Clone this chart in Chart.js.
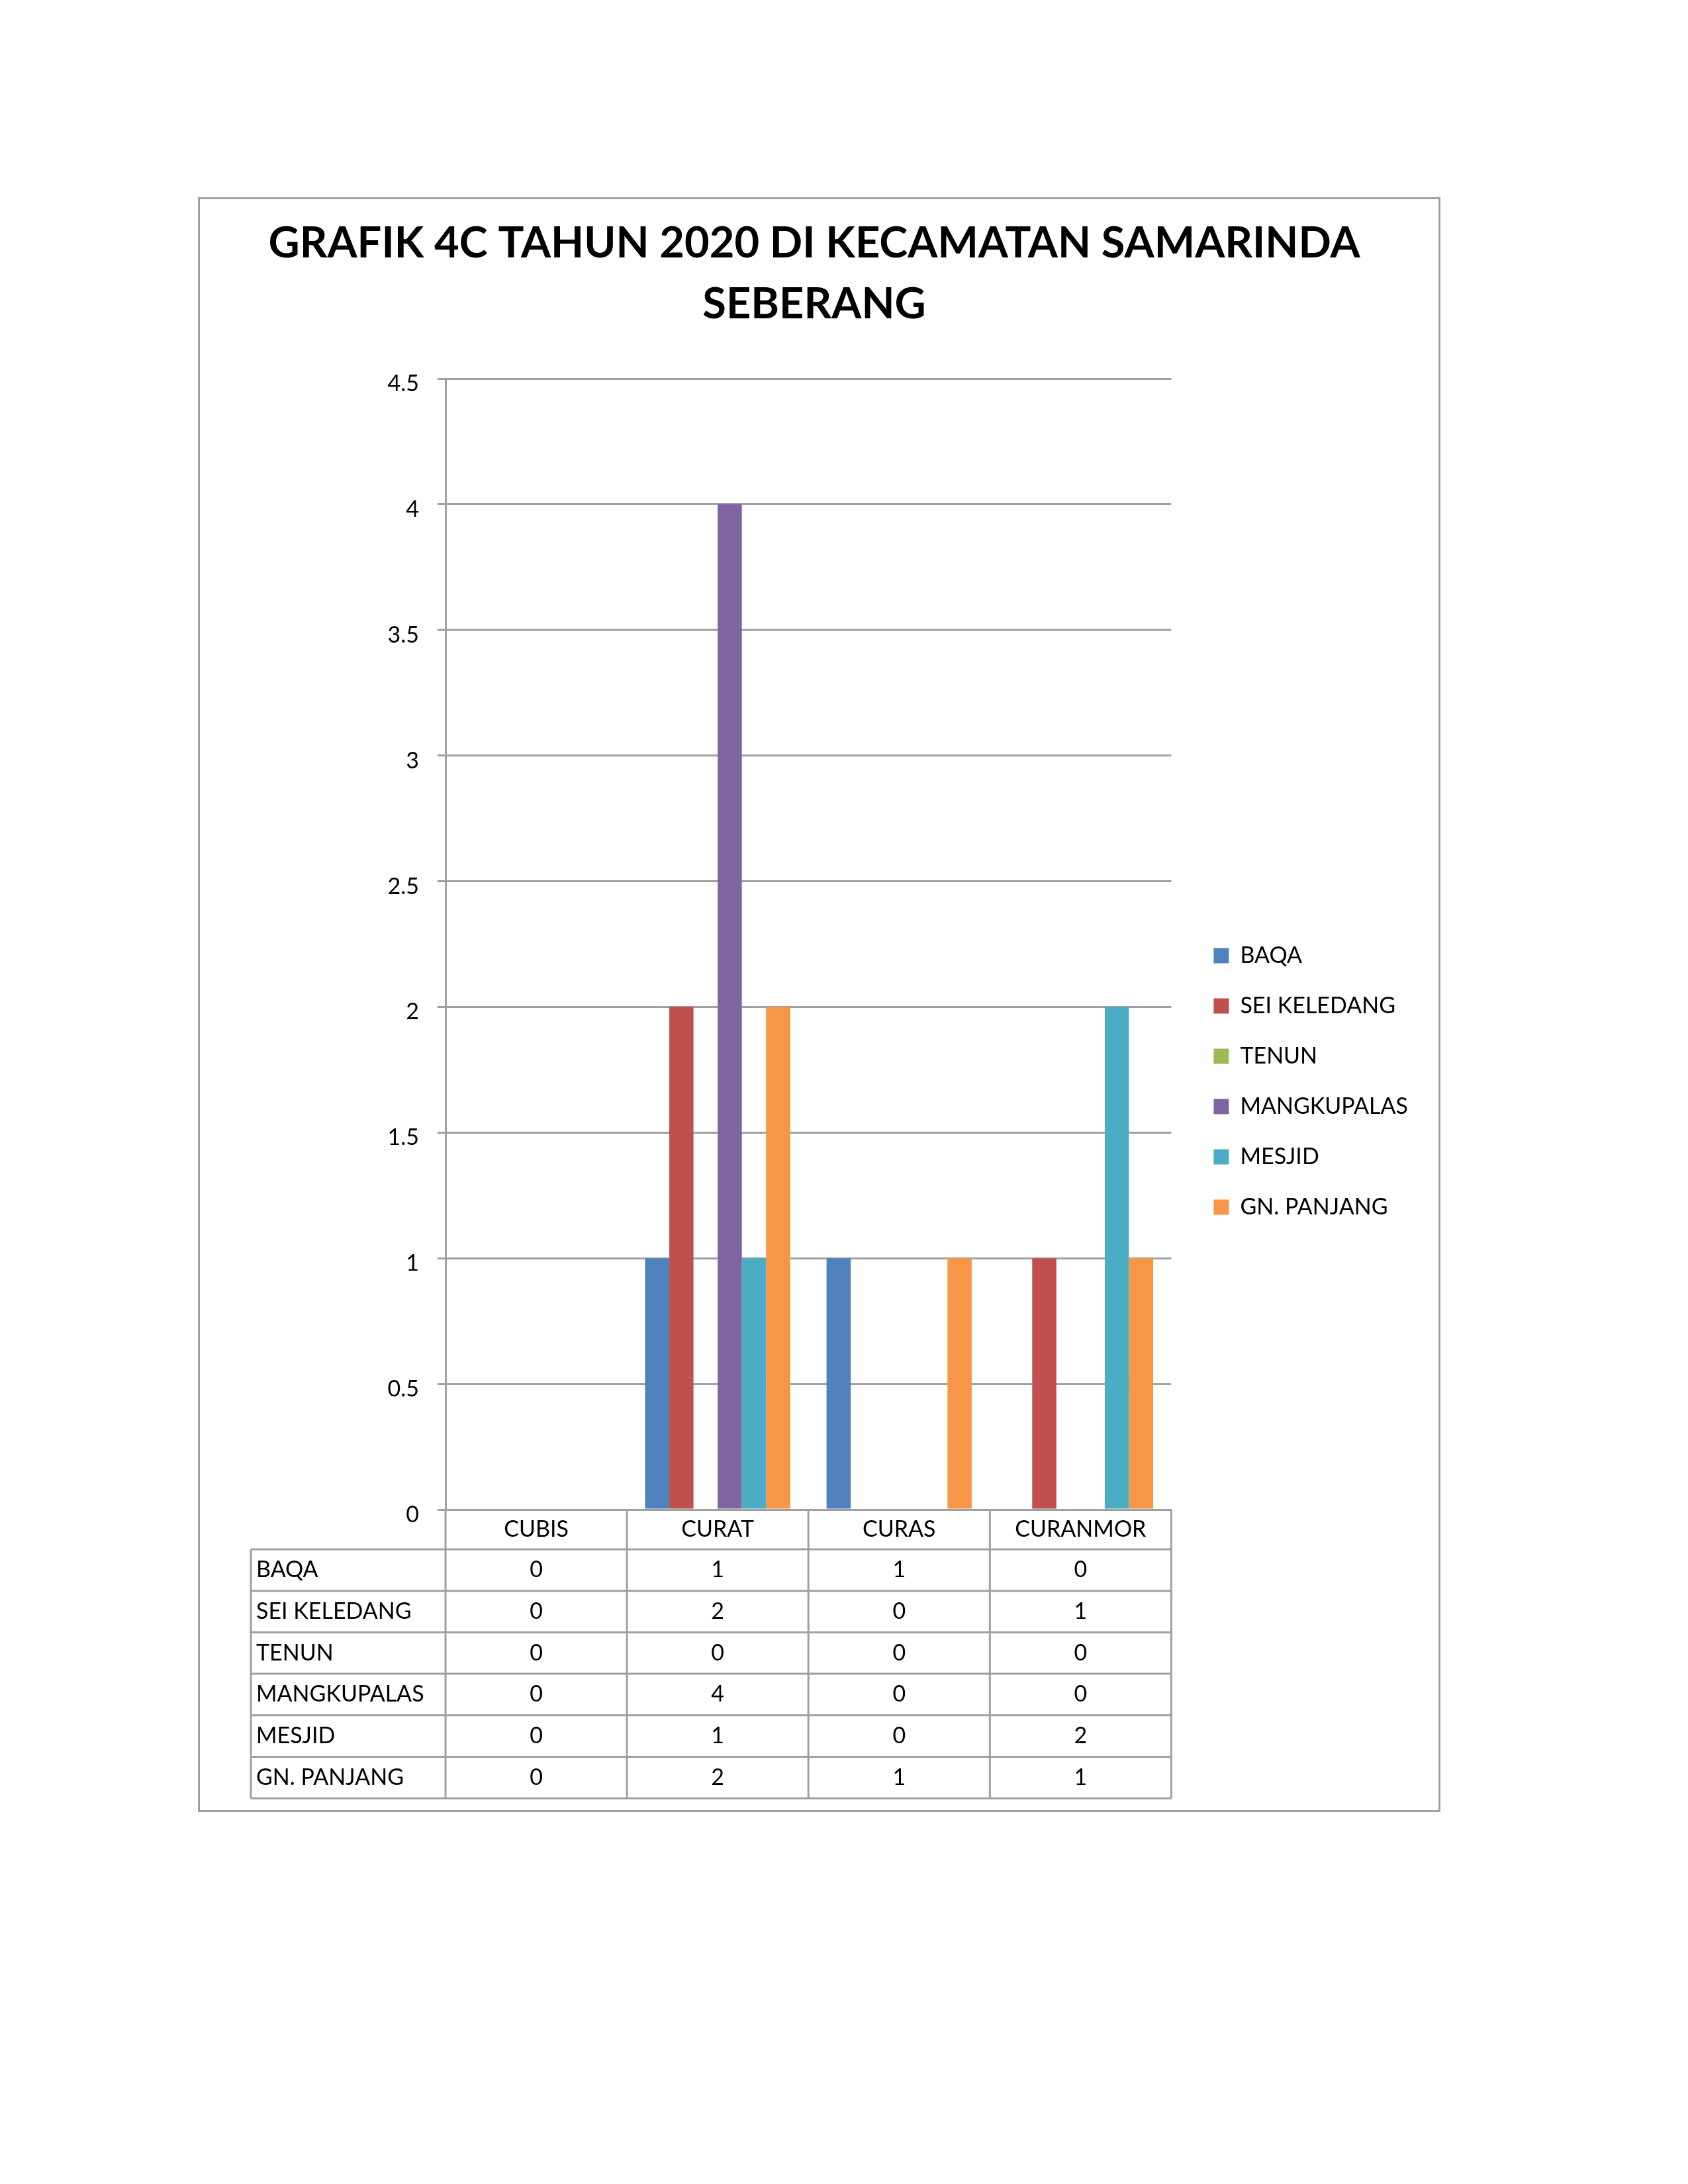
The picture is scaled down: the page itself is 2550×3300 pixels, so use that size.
<!DOCTYPE html>
<html><head><meta charset="utf-8">
<script src="https://cdn.jsdelivr.net/npm/chart.js@4.4.1/dist/chart.umd.min.js"></script>
<style>
html,body{margin:0;padding:0;background:#fff;}
#frame{position:absolute;left:299px;top:298px;width:1877px;height:2440px;box-sizing:border-box;border:3px solid #A0A0A0;}
#c{position:absolute;left:0;top:0;}
</style></head><body>
<div id="frame"></div>
<canvas id="c" width="2550" height="3300"></canvas>
<script>
const titleLines = ['GRAFIK 4C TAHUN 2020 DI KECAMATAN SAMARINDA', 'SEBERANG'];
const categories = ['CUBIS', 'CURAT', 'CURAS', 'CURANMOR'];
const seriesNames = ['BAQA', 'SEI KELEDANG', 'TENUN', 'MANGKUPALAS', 'MESJID', 'GN. PANJANG'];
const seriesColors = ['#4F81BD', '#C0504D', '#9BBB59', '#8064A2', '#4BACC6', '#F79646'];
const baqa = [0, 1, 1, 0];
const seiKeledang = [0, 2, 0, 1];
const tenun = [0, 0, 0, 0];
const mangkupalas = [0, 4, 0, 0];
const mesjid = [0, 1, 0, 2];
const gnPanjang = [0, 2, 1, 1];
const seriesData = [baqa, seiKeledang, tenun, mangkupalas, mesjid, gnPanjang];
const yMin = 0, yMax = 4.5, yStep = 0.5;

const GRID = '#A0A0A0';
const FONT = 'Lato';
const LEG_FONT = 34, LEG_BOX = 23, LEG_PAD = 42;

const tablePlugin = {
  id: 'dataTable',
  afterDraw(chart) {
    const ctx = chart.ctx, xs = chart.scales.x, area = chart.chartArea;
    const n = categories.length;
    const colW = (area.right - area.left) / n;
    const top = area.bottom;
    const headerBottom = top + 60;
    const rows = chart.data.datasets.length;
    const rowH = 62.7;
    const bottom = headerBottom + rows * rowH;
    const labelLeft = 379;
    ctx.save();
    ctx.strokeStyle = GRID;
    ctx.lineWidth = 3;
    ctx.beginPath();
    for (let i = 0; i <= n; i++) {
      const x = i < n ? xs.getPixelForValue(i) - colW / 2 : xs.getPixelForValue(n - 1) + colW / 2;
      ctx.moveTo(x, top); ctx.lineTo(x, bottom);
    }
    ctx.moveTo(labelLeft, headerBottom); ctx.lineTo(labelLeft, bottom);
    for (let r = 0; r <= rows; r++) {
      const y = headerBottom + r * rowH;
      ctx.moveTo(labelLeft, y); ctx.lineTo(area.right, y);
    }
    ctx.stroke();
    ctx.fillStyle = '#000';
    ctx.font = '34px ' + FONT;
    ctx.textBaseline = 'middle';
    chart.data.datasets.forEach((ds, r) => {
      const y = headerBottom + (r + 0.5) * rowH;
      ctx.textAlign = 'left';
      ctx.fillText(ds.label, labelLeft + 8, y);
      ctx.textAlign = 'center';
      ds.data.forEach((v, c) => {
        ctx.fillText(String(v), xs.getPixelForValue(c), y);
      });
    });
    ctx.restore();
  }
};

function draw() {
  Chart.defaults.font.family = FONT;
  Chart.defaults.color = '#000';
  // legend natural width, so the plot's right edge lands where wanted
  const mctx = document.createElement('canvas').getContext('2d');
  mctx.font = LEG_FONT + 'px ' + FONT;
  let maxText = 0;
  seriesNames.forEach(s => { maxText = Math.max(maxText, mctx.measureText(s).width); });
  const legendW = Math.ceil(LEG_PAD + LEG_BOX + LEG_FONT / 2 + maxText + 10) + 2;
  const plotRight = 1767, gap = 22, plotLeft = 673, titleCenter = 1230;
  const padRight = 2550 - plotRight - gap - legendW;
  const padLeft = 2 * titleCenter - (2550 - padRight);
  const yAxisW = plotLeft - padLeft;

  new Chart(document.getElementById('c'), {
    type: 'bar',
    data: {
      labels: categories,
      datasets: seriesNames.map((name, i) => ({
        label: name,
        data: seriesData[i],
        backgroundColor: seriesColors[i],
        borderWidth: 0,
        categoryPercentage: 0.8,
        barPercentage: 1.0
      }))
    },
    options: {
      responsive: false,
      devicePixelRatio: 1,
      animation: false,
      layout: { padding: { top: 300, bottom: 332, left: padLeft, right: padRight } },
      plugins: {
        title: {
          display: true,
          text: titleLines,
          color: '#000',
          font: { family: FONT, size: 65, weight: 'bold', lineHeight: 92 / 65 },
          padding: { top: 22, bottom: 66 }
        },
        legend: {
          display: true,
          position: 'right',
          align: 'center',
          maxWidth: legendW + 50,
          labels: {
            boxWidth: LEG_BOX, boxHeight: LEG_BOX, padding: LEG_PAD,
            color: '#000',
            font: { family: FONT, size: LEG_FONT }
          }
        },
        tooltip: { enabled: false }
      },
      scales: {
        x: {
          grid: { display: false, drawTicks: false },
          border: { display: true, color: GRID, width: 3 },
          ticks: { autoSkip: false, maxRotation: 0, padding: 10, color: '#000', font: { family: FONT, size: 34, lineHeight: 1.2 } },
          afterFit(a) { a.height = 3300 - 332 - 2281; }
        },
        y: {
          min: yMin, max: yMax,
          grid: { color: GRID, lineWidth: 3, tickLength: 12, drawTicks: true },
          border: { display: true, color: GRID, width: 3 },
          ticks: {
            stepSize: yStep, padding: 28, labelOffset: 8, color: '#000',
            font: { family: FONT, size: 34 },
            callback: v => String(v)
          },
          afterFit(a) { a.width = yAxisW; }
        },
        y2: {
          type: 'linear',
          position: 'right',
          display: true,
          grid: { display: false, drawTicks: false },
          border: { display: false },
          ticks: { display: false },
          afterFit(a) { a.width = gap; }
        }
      }
    },
    plugins: [tablePlugin]
  });
}
if (document.fonts && document.fonts.load) {
  Promise.all([document.fonts.load('34px Lato'), document.fonts.load('bold 65px Lato')]).then(draw, draw);
} else { draw(); }
</script>
</body></html>
